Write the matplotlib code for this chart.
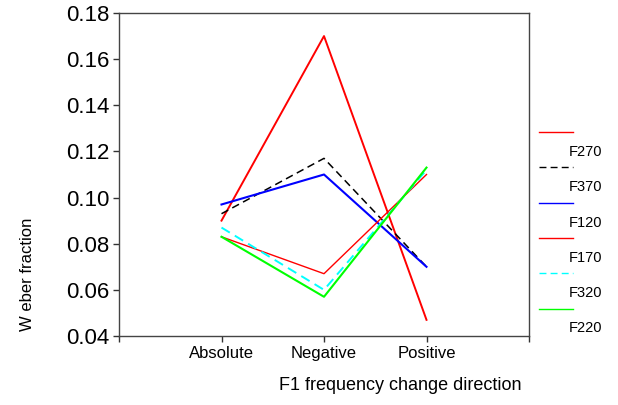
import numpy as np
import matplotlib
matplotlib.use("Agg")
import matplotlib.pyplot as plt
from matplotlib.lines import Line2D

# categories and series
categories = ["Absolute", "Negative", "Positive"]
labels = ["F270", "F370", "F120", "F170", "F320", "F220"]
values = [
    [0.090, 0.170, 0.047],
    [0.093, 0.117, 0.070],
    [0.097, 0.110, 0.070],
    [0.083, 0.067, 0.110],
    [0.087, 0.060, 0.112],
    [0.083, 0.057, 0.113],
]
colors = ["#ff0000", "#000000", "#0000ff", "#ff0000", "#00ffff", "#00ff00"]
styles = ["-", (0, (5, 3)), "-", "-", (0, (5, 3)), "-"]
widths = [1.4, 1.1, 1.5, 1.0, 1.4, 1.5]

plt.rcParams["font.family"] = ["Liberation Sans", "DejaVu Sans"]

fig = plt.figure(figsize=(6.18, 4.05), dpi=100)
ax = fig.add_axes([119 / 618, 1 - 336 / 405, (529 - 119) / 618, (336 - 13) / 405])

x = np.arange(1, len(categories) + 1)
for v, c, ls, lw in zip(values, colors, styles, widths):
    ax.plot(x, v, color=c, linestyle=ls, linewidth=lw)

ax.set_xlim(0, 4)
ax.set_ylim(0.04, 0.18)
ax.set_xticks(np.arange(0, 5))
ax.set_xticklabels([""] + categories + [""], fontsize=12)
yt = np.arange(0.04, 0.181, 0.02)
ax.set_yticks(yt)
ax.set_yticklabels(["%.2f" % t for t in yt], fontsize=16)
ax.tick_params(direction="out", length=4, width=1, color="#333333", pad=3)
ax.tick_params(axis="x", pad=3)
for s in ax.spines.values():
    s.set_color("#444444")
    s.set_linewidth(1)

fig.text(28 / 618, 1 - 274 / 405, "W eber fraction", rotation=90,
         ha="center", va="center", fontsize=12)
fig.text(400 / 618, 1 - 386 / 405, "F1 frequency change direction",
         ha="center", va="center", fontsize=13)

# legend drawn by hand: line, then label below it
for i, (lab, c, ls) in enumerate(zip(labels, colors, styles)):
    yl = 1 - (132 + 35.3 * i) / 405
    ytx = 1 - (152 + 35.3 * i) / 405
    fig.add_artist(Line2D([539 / 618, 573 / 618], [yl, yl], color=c,
                          linestyle=ls, linewidth=1, transform=fig.transFigure))
    fig.text(569 / 618, ytx, lab, ha="left", va="center", fontsize=10.5)

fig.savefig("out.png", dpi=100)
